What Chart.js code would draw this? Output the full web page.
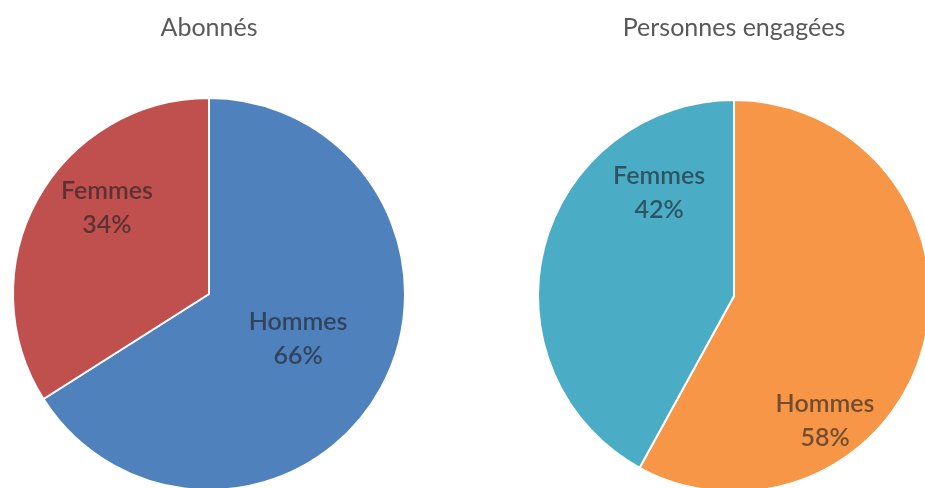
<!DOCTYPE html>
<html>
<head>
<meta charset="utf-8">
<script src="https://cdn.jsdelivr.net/npm/chart.js@4.4.1/dist/chart.umd.min.js"></script>
<style>
  html, body { margin: 0; padding: 0; background: #ffffff; overflow: hidden; width: 925px; height: 488px; }
  #wrap { position: relative; width: 925px; height: 488px; overflow: hidden; }
  canvas { position: absolute; top: 0; }
  #c1 { left: 0px; }
  #c2 { left: 525px; }
</style>
</head>
<body>
<div id="wrap">
  <canvas id="c1" width="418" height="500"></canvas>
  <canvas id="c2" width="418" height="500"></canvas>
</div>
<script>
// ---- Data ----
const categories = ["Hommes", "Femmes"];
const abonnesValues = [66, 34];
const engageesValues = [58, 42];
const titleAbonnes = "Abonnés";
const titleEngagees = "Personnes engagées";

// ---- Styles ----
const FONT = "Lato, 'Open Sans', sans-serif";
const abonnesColors = ["#4F81BD", "#C0504D"];
const engageesColors = ["#F79646", "#4BACC6"];

// label placement (angle clockwise from 12 o'clock in degrees, distance as fraction of radius)
const abonnesLabelPlace = [{a: 117, f: 0.51}, {a: 310, f: 0.68}];
const engageesLabelPlace = [{a: 144, f: 0.79}, {a: 324, f: 0.65}];

const sliceLabels = {
  id: 'sliceLabels',
  afterDatasetsDraw(chart, args, opts) {
    const ctx = chart.ctx;
    const meta = chart.getDatasetMeta(0);
    const data = chart.data.datasets[0].data;
    const total = data.reduce((s, v) => s + v, 0);
    ctx.save();
    ctx.font = "600 25px " + FONT;
    ctx.fillStyle = "rgba(30,30,35,0.62)";
    ctx.textAlign = "center";
    ctx.textBaseline = "middle";
    meta.data.forEach((arc, i) => {
      const p = opts.place[i];
      const ang = (p.a - 90) * Math.PI / 180;
      const x = arc.x + Math.cos(ang) * arc.outerRadius * p.f;
      const y = arc.y + Math.sin(ang) * arc.outerRadius * p.f;
      const pct = Math.round(data[i] / total * 100) + "%";
      ctx.fillText(chart.data.labels[i], x, y - 17);
      ctx.fillText(pct, x, y + 17);
    });
    ctx.restore();
  }
};

function makePie(id, values, colors, title, place, padBottom, titleBottom) {
  return new Chart(document.getElementById(id), {
    type: 'pie',
    data: {
      labels: categories,
      datasets: [{
        data: values,
        backgroundColor: colors,
        borderColor: "#ffffff",
        borderWidth: 2,
        radius: 196
      }]
    },
    options: {
      responsive: false,
      animation: false,
      events: [],
      layout: { padding: { top: 0, bottom: padBottom, left: 0, right: 0 } },
      plugins: {
        legend: { display: false },
        tooltip: { enabled: false },
        title: {
          display: true,
          text: title,
          color: "#595959",
          font: { family: FONT, size: 25, weight: 'normal' },
          padding: { top: 13, bottom: titleBottom }
        },
        sliceLabels: { place: place }
      }
    },
    plugins: [sliceLabels]
  });
}

makePie('c1', abonnesValues, abonnesColors, titleAbonnes, abonnesLabelPlace, 10, 55);
makePie('c2', engageesValues, engageesColors, titleEngagees, engageesLabelPlace, 8, 57);
</script>
</body>
</html>
